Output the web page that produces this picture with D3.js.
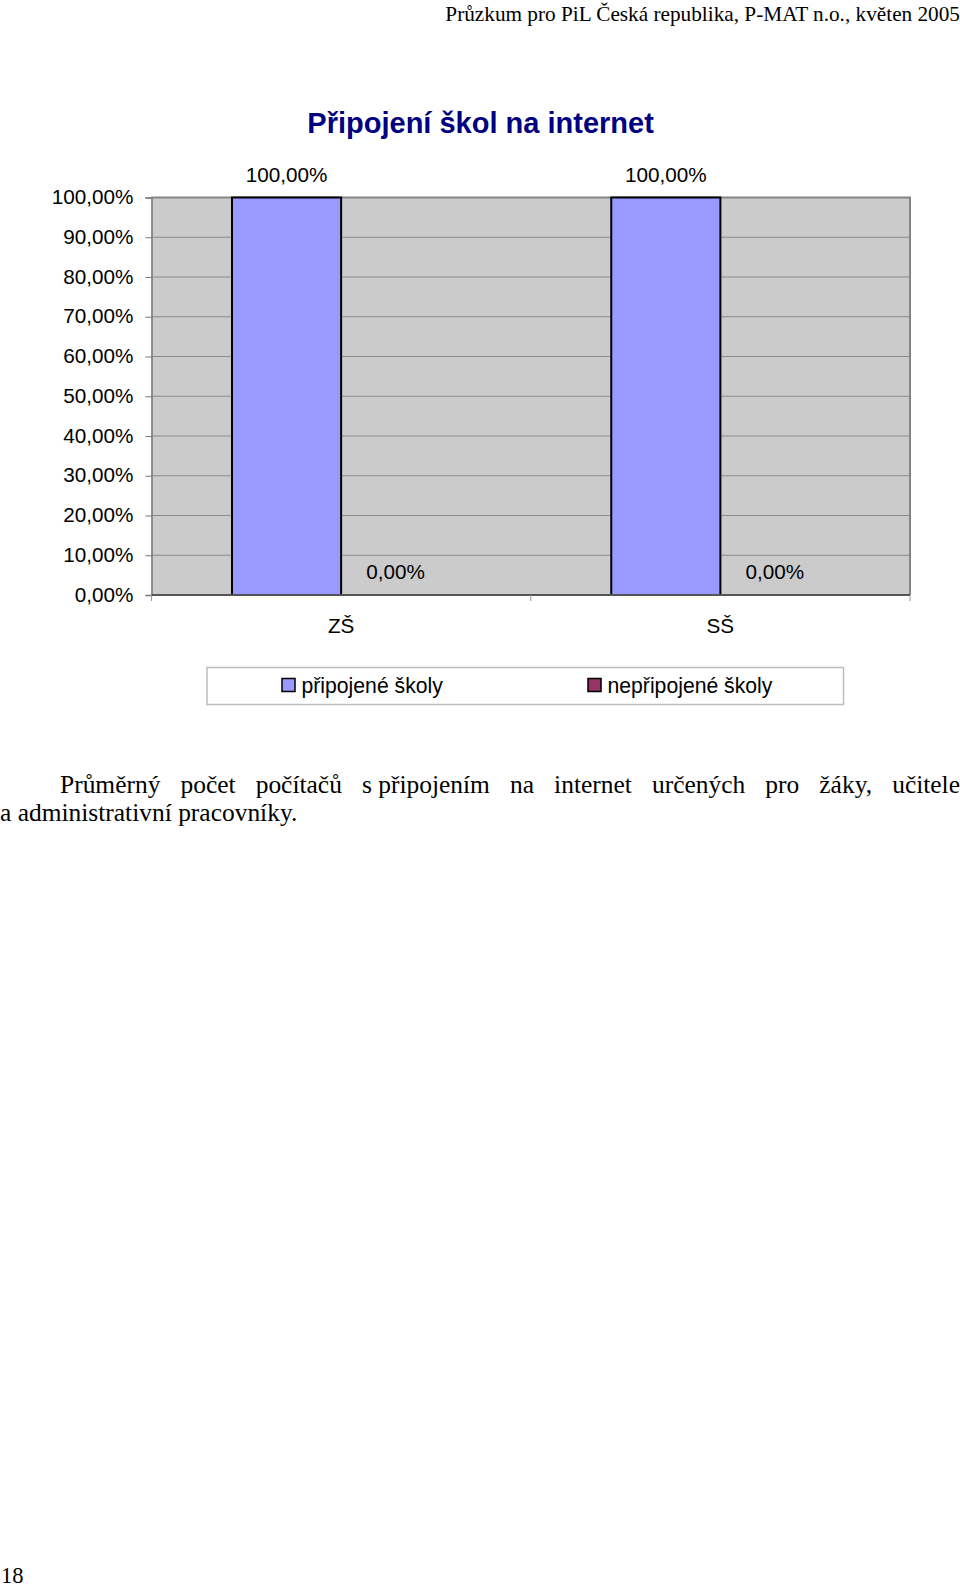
<!DOCTYPE html>
<html><head><meta charset="utf-8">
<script src="https://cdn.jsdelivr.net/npm/d3@7"></script>
<style>html,body{margin:0;padding:0;background:#fff;}svg{display:block;}</style>
</head><body>
<svg id="c" width="960" height="1591"></svg>
<script>
// ---- data ----
const categories = ["ZŠ", "SŠ"];
const seriesNames = ["připojené školy", "nepřipojené školy"];
const connected = [1.0, 1.0];
const notConnected = [0.0, 0.0];
const yTicks = [0, 0.1, 0.2, 0.3, 0.4, 0.5, 0.6, 0.7, 0.8, 0.9, 1.0];
const title = "Připojení škol na internet";
const header = "Průzkum pro PiL Česká republika, P-MAT n.o., květen 2005";
const bodyLine1 = ["Průměrný", "počet", "počítačů", "s\u00a0připojením", "na", "internet", "určených", "pro", "žáky,", "učitele"];
const bodyLine2 = "a administrativní pracovníky.";
const pageNumber = "18";
const seriesColors = ["#9999FF", "#993366"];

const svg = d3.select("#c");
const sans = "'Liberation Sans', Arial, sans-serif";
const serif = "'Liberation Serif', 'Times New Roman', serif";
const cz = d3.formatLocale({decimal: ",", thousands: "\u00a0", grouping: [3], currency: ["", " Kč"]});
const pct = cz.format(".2%");
const fs = 20.7;

function fitSize(text, family, target, weight) {
  const t = svg.append("text").attr("font-family", family).attr("font-size", 100)
    .attr("font-weight", weight || "normal").text(text);
  const w = t.node().getComputedTextLength();
  t.remove();
  return 100 * target / w;
}

// header
const hSize = fitSize(header, serif, 515);
svg.append("text").attr("x", 960).attr("y", 21).attr("text-anchor", "end")
  .attr("font-family", serif).attr("font-size", hSize).attr("fill", "#000").text(header);

// ---- chart ----
const L = 151.5, R = 910, T = 197.5, B = 595;
const x = d3.scaleBand().domain(categories).range([L, R]).paddingInner(0).paddingOuter(0);
const bw = x.bandwidth();
const xs = d3.scaleBand().domain(seriesNames).range([80.5, bw - 80.5]).padding(0);
const y = d3.scaleLinear().domain([0, 1]).range([B, T]);

svg.append("rect").attr("x", L).attr("y", T).attr("width", R - L).attr("height", B - T)
  .attr("fill", "#cbcbcb");

svg.append("g").selectAll("line").data(yTicks.filter(d => d > 0)).join("line")
  .attr("x1", L).attr("x2", R).attr("y1", d => y(d)).attr("y2", d => y(d))
  .attr("stroke", "#8a8a8a").attr("stroke-width", 1);

svg.append("path").attr("d", `M${L},${T}H${R}V${B}`).attr("fill", "none")
  .attr("stroke", "#858585").attr("stroke-width", 2);

const rows = categories.map((c, i) => ({cat: c, vals: [connected[i], notConnected[i]]}));
const gBars = svg.append("g");
rows.forEach(r => {
  r.vals.forEach((v, j) => {
    const bx = x(r.cat) + xs(seriesNames[j]);
    if (v > 0) {
      gBars.append("rect").attr("x", bx).attr("y", y(v)).attr("width", xs.bandwidth())
        .attr("height", y(0) - y(v)).attr("fill", seriesColors[j])
        .attr("stroke", "#000").attr("stroke-width", 2);
    }
    gBars.append("text").attr("x", bx + xs.bandwidth() / 2).attr("y", y(v) - 16)
      .attr("text-anchor", "middle").attr("font-family", sans).attr("font-size", fs)
      .attr("fill", "#000").text(pct(v));
  });
});

const yAxis = d3.axisLeft(y).tickValues(yTicks).tickFormat(pct).tickSize(6).tickPadding(12);
const gy = svg.append("g").attr("transform", `translate(${L},0)`).call(yAxis);
gy.select(".domain").attr("stroke", "#777").attr("stroke-width", 1.5);
gy.selectAll(".tick line").attr("stroke", "#777");
gy.selectAll(".tick text").attr("font-family", sans).attr("font-size", fs).attr("fill", "#000")
  .attr("dy", "0.3em");

const gx = svg.append("g").attr("transform", `translate(0,${B})`);
gx.append("line").attr("x1", L).attr("x2", R).attr("stroke", "#555").attr("stroke-width", 2);
const bounds = categories.map(c => x(c)).concat([R]);
gx.selectAll("line.tk").data(bounds).join("line").attr("class", "tk")
  .attr("x1", d => d).attr("x2", d => d).attr("y1", 0).attr("y2", 6)
  .attr("stroke", "#999").attr("stroke-width", 1);
gx.selectAll("text").data(categories).join("text")
  .attr("x", d => x(d) + x.bandwidth() / 2).attr("y", 38).attr("text-anchor", "middle")
  .attr("font-family", sans).attr("font-size", fs).attr("fill", "#000").text(d => d);

svg.append("text").attr("x", 480.6).attr("y", 133).attr("text-anchor", "middle")
  .attr("font-family", sans).attr("font-weight", "bold").attr("font-size", 29)
  .attr("fill", "#000080").text(title);

svg.append("rect").attr("x", 207).attr("y", 667.5).attr("width", 636.5).attr("height", 37)
  .attr("fill", "#fff").attr("stroke", "#bdbdbd").attr("stroke-width", 1.5);
const legX = [282, 588];
const lg = svg.append("g").selectAll("g").data(seriesNames).join("g")
  .attr("transform", (d, i) => `translate(${legX[i]},678.5)`);
lg.append("rect").attr("width", 13).attr("height", 13).attr("fill", (d, i) => seriesColors[i])
  .attr("stroke", "#000").attr("stroke-width", 1.5);
lg.append("text").attr("x", 19.5).attr("y", 14).attr("font-family", sans).attr("font-size", 21.2)
  .attr("fill", "#000").text(d => d);

const bSize = fitSize(bodyLine2, serif, 297.5);
const tmp = svg.append("g").attr("font-family", serif).attr("font-size", bSize);
const widths = bodyLine1.map(w => { const t = tmp.append("text").text(w); const n = t.node().getComputedTextLength(); t.remove(); return n; });
tmp.remove();
const startX = 60, endX = 960;
const gap = (endX - startX - d3.sum(widths)) / (bodyLine1.length - 1);
let cx = startX;
const g1 = svg.append("g").attr("font-family", serif).attr("font-size", bSize).attr("fill", "#000");
bodyLine1.forEach((w, i) => { g1.append("text").attr("x", cx).attr("y", 793).text(w); cx += widths[i] + gap; });
g1.append("text").attr("x", 0).attr("y", 820.5).text(bodyLine2);

svg.append("text").attr("x", 1).attr("y", 1583).attr("font-family", serif).attr("font-size", 22.5)
  .attr("fill", "#000").text(pageNumber);
</script>
</body></html>
